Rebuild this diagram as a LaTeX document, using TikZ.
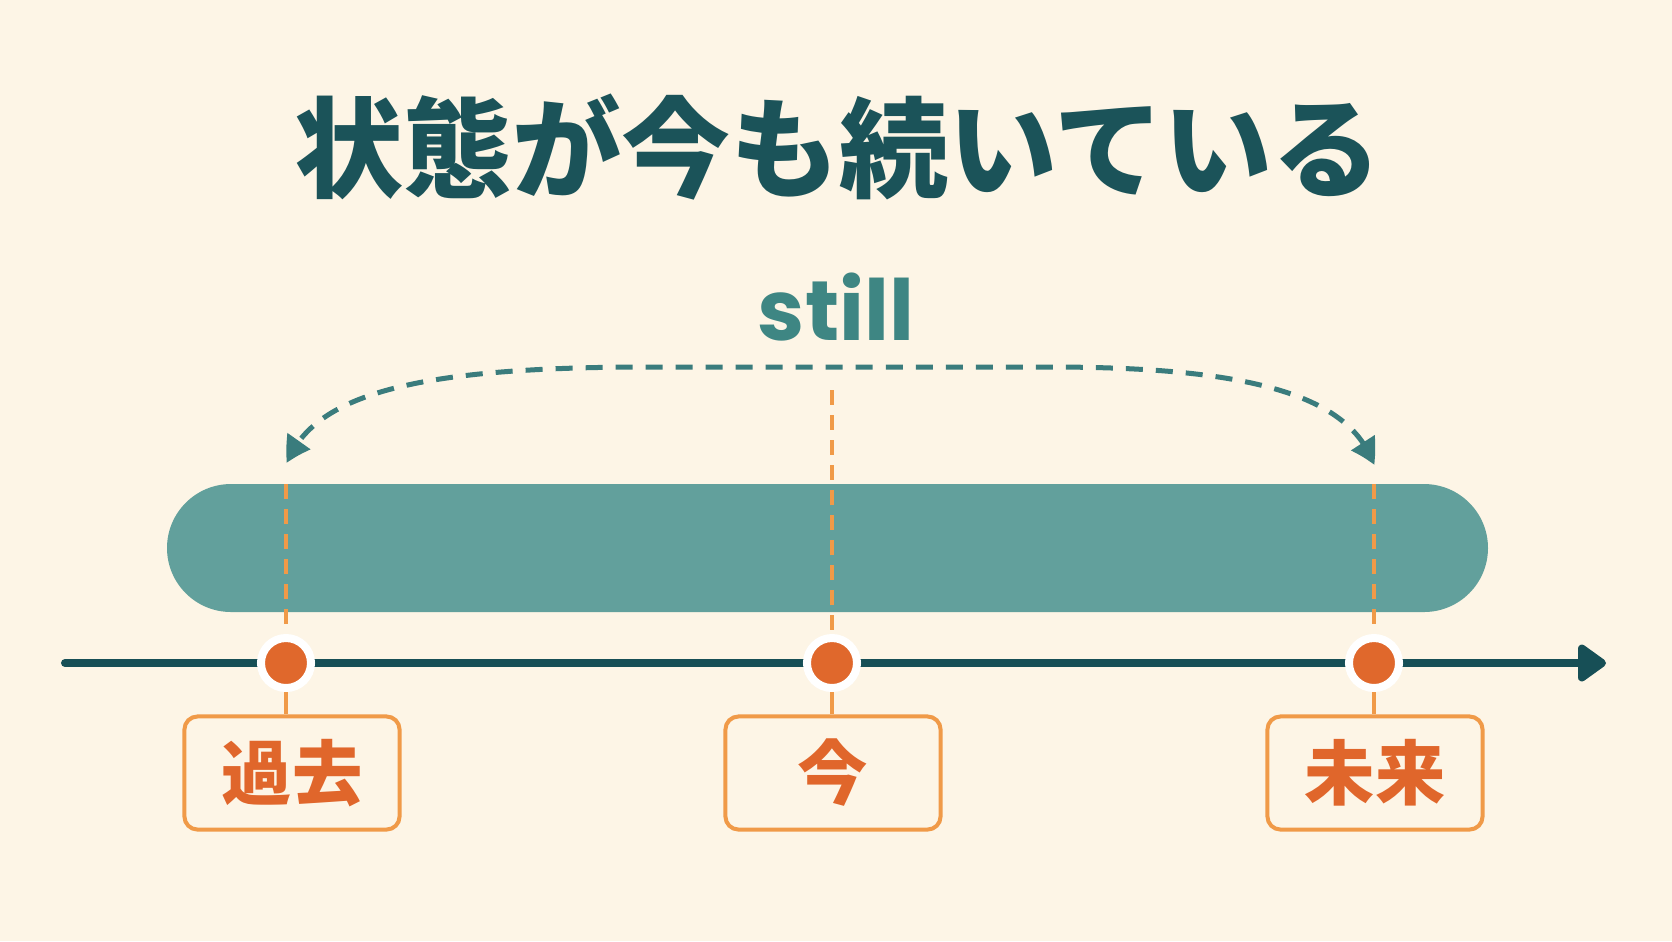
\documentclass[tikz,border=0pt]{standalone}
\usepackage{fontspec}
\usepackage{tikz}
\usetikzlibrary{positioning,calc,arrows.meta,bending}
\newfontfamily\jpfont{Noto Sans CJK JP}
\newfontfamily\stillfont{Poppins}
\definecolor{cream}{HTML}{FDF5E6}
\definecolor{titleteal}{HTML}{1B5359}
\definecolor{stillteal}{HTML}{3E8683}
\definecolor{arcteal}{HTML}{3A7C7D}
\definecolor{barteal}{HTML}{62A09C}
\definecolor{axisteal}{HTML}{174F56}
\definecolor{dotorange}{HTML}{E0682C}
\definecolor{lineorange}{HTML}{F09A48}
\definecolor{textorange}{HTML}{E0662B}

\begin{document}
\begin{tikzpicture}[x=0.01cm,y=-0.01cm,
    title node/.style={font=\jpfont\bfseries\fontsize{31}{36}\selectfont,text=titleteal,inner sep=0pt},
    still node/.style={font=\stillfont\bfseries\fontsize{24}{28}\selectfont,text=stillteal,inner sep=0pt},
    axis line/.style={draw=axisteal,line width=0.08cm,line cap=round,-{Triangle[length=0.31cm,width=0.42cm,round]}},
    main dot/.style={circle,fill=dotorange,draw=white,line width=0.08cm,minimum size=0.5cm,inner sep=0pt},
    guide/.style={draw=lineorange,line width=0.04cm,dash pattern=on 0.15cm off 0.1cm},
    stem/.style={draw=lineorange,line width=0.04cm},
    time box/.style={draw=lineorange,line width=0.04cm,rounded corners=0.13cm,fill=cream,
                     minimum width=2.15cm,minimum height=1.13cm,inner sep=0pt,
                     font=\jpfont\bfseries\fontsize{20}{24}\selectfont,text=textorange},
    still arc/.style={draw=arcteal,line width=0.05cm,dash pattern=on 0.17cm off 0.13cm,
                      {Triangle[length=0.25cm,width=0.27cm,bend]}-{Triangle[length=0.25cm,width=0.27cm,bend]}}
   ]
  \fill[cream] (0,0) rectangle (1672,941);
  \useasboundingbox (0,0) rectangle (1672,941);

  % title and label
  \node[title node] (title) at (838,147) {状態が今も続いている};
  \node[still node,anchor=base] (still) at (836,340) {still};

  % the long state bar
  \fill[barteal,rounded corners=0.64cm] (167,484) rectangle (1488,612);

  % time axis
  \coordinate (axisstart) at (65,663);
  \coordinate (axisend) at (1606,663);
  \draw[axis line] (axisstart) -- (axisend);

  \node[main dot] (pastdot) at (286,663) {};
  \node[main dot] (nowdot) at (832,663) {};
  \node[main dot] (futuredot) at (1374,663) {};

  \node[time box] (past) at (292,773) {過去};
  \node[time box] (now) at (833,773) {今};
  \node[time box] (future) at (1375,773) {未来};

  \coordinate (pasttop) at (286,484);
  \coordinate (nowtop) at (832,390);
  \coordinate (futuretop) at (1374,484);
    \path%
      (pasttop) edge [guide] (pastdot)
      (nowtop) edge [guide] (nowdot)
      (futuretop) edge [guide] (futuredot)
      (pastdot) edge [stem] (pastdot |- past.north)
      (nowdot) edge [stem] (nowdot |- now.north)
      (futuredot) edge [stem] (futuredot |- future.north);

  % dashed span arrow
  \coordinate (pastend) at (287,463);
  \coordinate (futureend) at (1374,465);
  \draw[still arc] (futureend) .. controls (1350,395) and (1250,367) .. (1050,367)
        -- (650,367) .. controls (430,367) and (315,390) .. (pastend);
\end{tikzpicture}
\end{document}
